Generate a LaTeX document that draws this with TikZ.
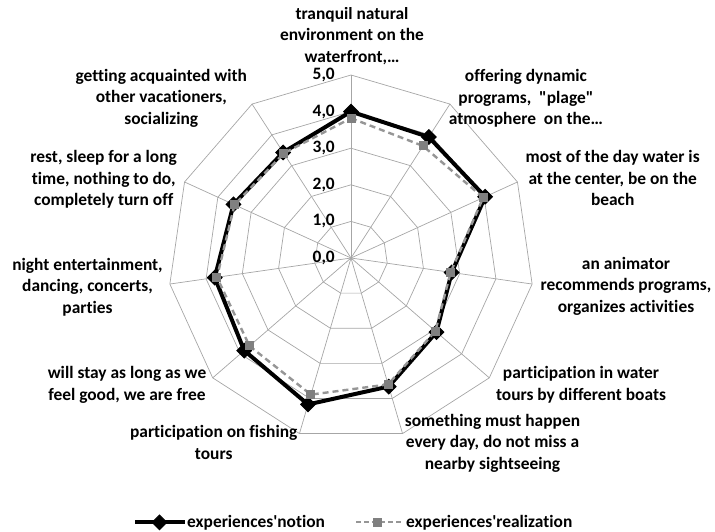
\documentclass[tikz,border=0pt]{standalone}
\usepackage{fontspec}
\setmainfont{Carlito}[Ligatures={TeXOff,NoCommon}]
\usetikzlibrary{shapes.geometric}
\definecolor{gridc}{HTML}{A6A6A6}
\definecolor{realc}{HTML}{808080}
\definecolor{reall}{HTML}{969696}
\tikzset{
  gridline/.style={draw=gridc, line width=0.7pt},
  lab/.style={align=center, inner sep=0pt, font=\bfseries\fontsize{17.4}{21.5}\selectfont},
  scalelab/.style={anchor=east, inner sep=0pt, font=\bfseries\fontsize{17.4}{20}\selectfont},
  notionline/.style={draw=black, line width=4pt, line join=round},
  realline/.style={draw=reall, line width=2.4pt, dash pattern=on 6pt off 4pt, line join=round},
  notionmark/.style={diamond, fill=black, draw=black, line width=1pt, minimum width=15pt, minimum height=15pt, inner sep=0pt},
  realmark/.style={rectangle, fill=realc, minimum width=9pt, minimum height=9pt, inner sep=0pt}
}
\begin{document}
\begin{tikzpicture}[x=1pt,y=-1pt]
\useasboundingbox (0,0) rectangle (715,531);
\def\cx{351}
\def\cy{258}
\def\u{36.6}
\coordinate (c) at (\cx,\cy);
% grid rings
\foreach \r in {1,...,5}{
  \draw[gridline] ({\cx},{\cy-\r*\u})
    \foreach \k in {1,...,10}{ -- ({\cx+\r*\u*sin(\k*360/11)},{\cy-\r*\u*cos(\k*360/11)}) } -- cycle;
}
% spokes
\foreach \k in {0,...,10}{
  \coordinate (o\k) at ({\cx+5*\u*sin(\k*360/11)},{\cy-5*\u*cos(\k*360/11)});
  \draw[gridline] (c) -- (o\k);
}
% scale labels
\foreach \v in {0,...,5}{
  \node[scalelab] (s\v) at (335,{\cy-\v*\u}) {\v,0};
}
% notion series
\foreach \k/\v in {0/4.0,1/3.93,2/4.03,3/2.78,4/3.09,5/3.66,6/4.17,7/3.86,8/3.76,9/3.53,10/3.43}{
  \coordinate (n\k) at ({\cx+\v*\u*sin(\k*360/11)},{\cy-\v*\u*cos(\k*360/11)});
}
\draw[notionline] (n0) \foreach \k in {1,...,10}{ -- (n\k) } -- cycle;
\foreach \k in {0,...,10}{ \node[notionmark] (nm\k) at (n\k) {}; }
% realization series
\foreach \k/\v in {0/3.82,1/3.64,2/3.97,3/2.75,4/3.05,5/3.6,6/3.89,7/3.67,8/3.7,9/3.5,10/3.4}{
  \coordinate (r\k) at ({\cx+\v*\u*sin(\k*360/11)},{\cy-\v*\u*cos(\k*360/11)});
}
\draw[realline] (r0) \foreach \k in {1,...,10}{ -- (r\k) } -- cycle;
\foreach \k in {0,...,10}{ \node[realmark] (rm\k) at (r\k) {}; }
% category labels
\begin{scope}
  \clip (0,7) rectangle (715,120);
  \node[lab] (l0) at (352,36) {tranquil natural\\environment on the\\waterfront,…};
\end{scope}
\node[lab] (l1) at (526,98.3) {offering dynamic\\programs,\ \ "plage"\\atmosphere\ \ on the…};
\node[lab] (l2) at (612.7,178.3) {most of the day water is\\at the center, be on the\\beach};
\node[lab] (l3) at (626,286) {an animator\\recommends programs,\\organizes activities};
\node[lab] (l4) at (581,384.7) {participation in water\\tours by different boats};
\node[lab] (l5) at (492.5,443.3) {something must happen\\every day, do not miss a\\nearby sightseeing};
\node[lab] (l6) at (213.7,442.7) {participation on fishing\\tours};
\node[lab] (l7) at (127,384.7) {will stay as long as we\\feel good, we are free};
\node[lab] (l8) at (87.5,287) {night entertainment,\\dancing, concerts,\\parties};
\node[lab] (l9) at (103.7,179.4) {rest, sleep for a long\\time, nothing to do,\\completely turn off};
\node[lab] (l10) at (161.3,98.3) {getting acquainted with\\other vacationers,\\socializing};
% legend
\coordinate (la1) at (135,522.3);
\coordinate (la2) at (185,522.3);
\draw[notionline, line width=4pt] (la1) -- (la2);
\node[notionmark] (lm1) at (159.5,522.3) {};
\node[lab, anchor=west] (lt1) at (187,522.3) {experiences'notion};
\coordinate (lb1) at (356,522.3);
\coordinate (lb2) at (401,522.3);
\draw[realline, line width=2pt, dash pattern=on 5pt off 3pt] (lb1) -- (lb2);
\node[realmark] (lm2) at (377,522.3) {};
\node[lab, anchor=west] (lt2) at (406,522.3) {experiences'realization};
\end{tikzpicture}
\end{document}
